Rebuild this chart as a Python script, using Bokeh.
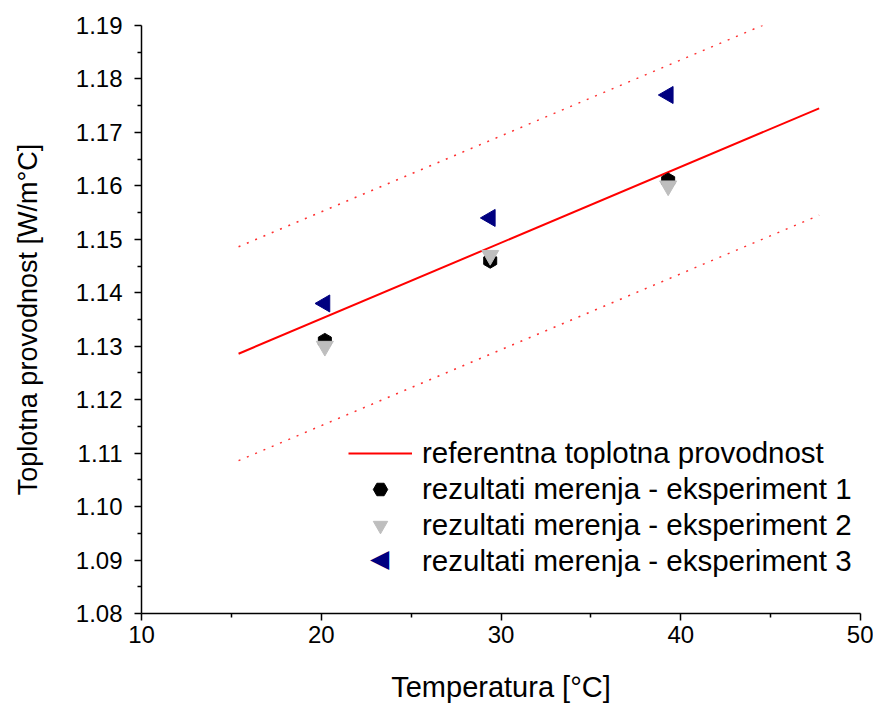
import math
from bokeh.plotting import figure
from bokeh.models import Range1d, FixedTicker, PrintfTickFormatter, Legend, LegendItem, Label
from bokeh.embed import file_html
from bokeh.resources import INLINE

# ---- data ----
temperature = [20.2, 29.4, 39.3]
exp1 = [1.131, 1.146, 1.161]
exp2 = [1.130, 1.147, 1.160]
exp3 = [1.138, 1.154, 1.177]

ref_t = [15.4, 47.7]
ref_k = [1.1286, 1.1745]
band = 0.02
upper_k = [k + band for k in ref_k]
lower_k = [k - band for k in ref_k]

x_ticks = [10, 20, 30, 40, 50]
x_minor = [15, 25, 35, 45]
y_ticks = [1.08, 1.09, 1.10, 1.11, 1.12, 1.13, 1.14, 1.15, 1.16, 1.17, 1.18, 1.19]
y_minor = [1.085, 1.095, 1.105, 1.115, 1.125, 1.135, 1.145, 1.155, 1.165, 1.175, 1.185]

FONT = "Liberation Sans"

p = figure(width=873, height=704, output_backend="svg", toolbar_location=None,
           x_range=Range1d(10, 50), y_range=Range1d(1.08, 1.19))
p.min_border_left = 141
p.min_border_top = 25
p.min_border_right = 13
p.min_border_bottom = 91
p.frame_width = 719
p.frame_height = 588
p.outline_line_color = None
p.xgrid.visible = False
p.ygrid.visible = False
p.background_fill_color = "white"
p.border_fill_color = "white"

p.xaxis.ticker = FixedTicker(ticks=x_ticks, minor_ticks=x_minor)
p.yaxis.ticker = FixedTicker(ticks=y_ticks, minor_ticks=y_minor)
p.yaxis.formatter = PrintfTickFormatter(format="%.2f")

for ax in (p.xaxis[0], p.yaxis[0]):
    ax.axis_line_width = 1.5
    ax.major_tick_line_width = 1.5
    ax.minor_tick_line_width = 1.5
    ax.major_tick_in = 0
    ax.major_tick_out = 7
    ax.minor_tick_in = 0
    ax.minor_tick_out = 4
    ax.major_label_text_font = FONT
    ax.major_label_text_font_size = "24px"
    ax.major_label_text_color = "black"
    ax.axis_label_text_font = FONT
    ax.axis_label_text_font_style = "normal"
    ax.axis_label_text_color = "black"

p.xaxis.axis_label = "Temperatura [°C]"
p.xaxis.axis_label_text_font_size = "29px"
p.xaxis.major_label_standoff = 5
p.xaxis.axis_label_standoff = 25

p.yaxis.axis_label = "Toplotna provodnost [W/m°C]"
p.yaxis.axis_label_text_font_size = "27px"
p.yaxis.major_label_standoff = 12
p.yaxis.axis_label_standoff = 30

r_ref = p.line(ref_t, ref_k, line_color="#ff0000", line_width=2)
p.line(ref_t, upper_k, line_color="#ff3030", line_width=1.5, line_dash="2 7")
p.line(ref_t, lower_k, line_color="#ff3030", line_width=1.5, line_dash="2 7")

r1 = p.scatter(temperature, exp1, marker="hex", size=15, angle=math.pi / 2,
               fill_color="black", line_color="black")
r2 = p.scatter(temperature, exp2, marker="inverted_triangle", size=17,
               fill_color="#bebebe", line_color="#bebebe")
r3 = p.scatter(temperature, exp3, marker="triangle", size=17, angle=math.pi / 2,
               fill_color="#000080", line_color="#000080")
# proxy for the legend entry (Bokeh draws legend markers unrotated)
r3_proxy = p.scatter([], [], marker="triangle", size=17, fill_alpha=0, line_alpha=0)

LEG_X, LEG_Y, ROW_H, GLYPH_W = 207, 34, 36, 64
legend = Legend(items=[
    LegendItem(label="referentna toplotna provodnost", renderers=[r_ref]),
    LegendItem(label="rezultati merenja - eksperiment 1", renderers=[r1]),
    LegendItem(label="rezultati merenja - eksperiment 2", renderers=[r2]),
    LegendItem(label="rezultati merenja - eksperiment 3", renderers=[r3_proxy]),
], location=(LEG_X, LEG_Y))
legend.border_line_color = None
legend.background_fill_alpha = 0
legend.padding = 0
legend.margin = 0
legend.spacing = 0
legend.glyph_width = GLYPH_W
legend.glyph_height = ROW_H
legend.label_height = ROW_H
legend.label_standoff = 10
legend.label_text_font = FONT
legend.label_text_font_size = "29.5px"
legend.label_text_color = "black"
p.add_layout(legend, "center")

# left-pointing triangle symbol for the 3rd legend entry
p.add_layout(Label(x=LEG_X + GLYPH_W / 2 - 1, y=LEG_Y + ROW_H / 2 + 3, x_units="screen", y_units="screen",
                   text="◀", text_align="center", text_baseline="middle",
                   text_font="DejaVu Sans", text_font_size="25px", text_color="#000080"))

open("out.html", "w").write(file_html(p, INLINE))
